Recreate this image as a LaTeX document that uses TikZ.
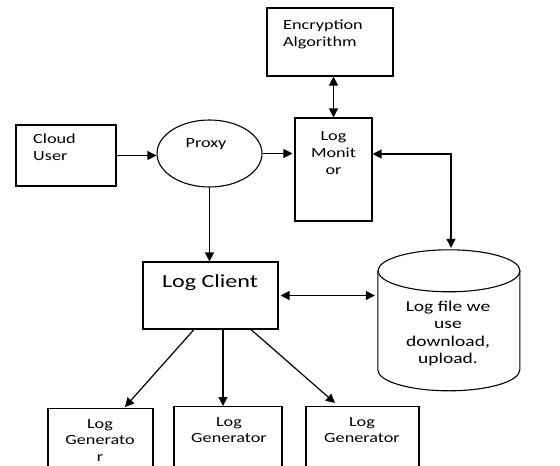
\documentclass[tikz,border=0pt]{standalone}
\usepackage{fontspec}
\setmainfont{Carlito}[FakeStretch=1.3]
\usetikzlibrary{arrows.meta,calc,shapes.geometric}

\tikzset{
  box/.style={draw, line width=1.1pt, inner sep=0pt},
  txt/.style={font=\fontsize{14}{16.8}\selectfont, inner sep=0pt},
  arr/.style={line width=1.2pt, -{Triangle[length=9pt,width=9pt]}},
  darr/.style={line width=1.2pt, {Triangle[length=9pt,width=9pt]}-{Triangle[length=9pt,width=9pt]}},
}

\begin{document}
\begin{tikzpicture}[x=1pt, y=-1pt]
  % page frame, the generator boxes run past the lower edge
  \clip (0,0) rectangle (560,466);
  \fill[white] (0,0) rectangle (560,466);

  % Boxes
  \node[box, minimum width=126pt, minimum height=68pt] (enc) at (330,42) {};
  \node[box, minimum width=77pt, minimum height=103pt] (mon) at (333.5,169.5) {};
  \node[box, minimum width=100pt, minimum height=61pt] (user) at (66,155.5) {};
  \node[box, ellipse, minimum width=105pt, minimum height=67pt] (proxy) at (209.5,153.5) {};
  \node[box, minimum width=135pt, minimum height=67pt] (client) at (210.5,295.5) {};
  \node[box, anchor=north, minimum width=105pt, minimum height=90pt] (gen1) at (100.5,408) {};
  \node[box, anchor=north, minimum width=108pt, minimum height=90pt] (gen2) at (228,406) {};
  \node[box, anchor=north, minimum width=113pt, minimum height=90pt] (gen3) at (362.5,406) {};

  % Log file store (cylinder)
  \node[inner sep=0pt, minimum width=142pt, minimum height=141pt] (store) at (449,320.5) {};
  \draw[line width=1.1pt, fill=white]
    (store.north west) ++(0,21) -- ++(0,99)
    arc[start angle=180, end angle=360, x radius=71pt, y radius=21pt]
    -- ++(0,-99);
  \draw[line width=1.1pt] ($(store.north)+(0,21)$) ellipse[x radius=71pt, y radius=21pt];

  % Labels
  \node[txt, anchor=north west, align=left] (enc-t) at (283,20) {Encryption\\Algorithm};
  \node[txt, anchor=north, align=center] (mon-t) at (333.5,131.5) {Log\\Monit\\or};
  \node[txt, anchor=north west, align=left] (user-t) at (33,134) {Cloud\\User};
  \node[txt, anchor=north] (proxy-t) at (206,138) {Proxy};
  \node[txt, anchor=north, font=\fontsize{18.5}{20}\selectfont] (client-t) at (210,274) {Log Client};
  \node[txt, anchor=north, align=center, font=\fontsize{15}{17.3}\selectfont] (store-t) at (448,301)
    {Log file we\\use\\download,\\upload.};
  \node[txt, anchor=north, align=center] (gen1-t) at (100,419) {Log\\Generato\\r};
  \node[txt, anchor=north, align=center] (gen2-t) at (229,417) {Log\\Generator};
  \node[txt, anchor=north, align=center] (gen3-t) at (362,417) {Log\\Generator};

  % Connectors
  \draw[arr] (user.east) -- (user.east -| proxy.west);
  \draw[arr] (proxy.east) -- ([xshift=-2pt]proxy.east -| mon.west);
  \draw[darr] (mon.north) -- (mon.north |- enc.south);
  \draw[arr] (proxy.south) -- (proxy.south |- client.north);
  \coordinate (tap) at (451,154);
  \draw[arr] (tap) -- (tap -| mon.east);
  \draw[arr, shorten <=-1pt] (tap) -- ([yshift=2pt]tap |- store.north);
  \draw[darr] ([xshift=2pt]client.east) -- ([xshift=-3pt]client.east -| store.west);
  \draw[arr] ([xshift=-16.5pt]client.south) -- ([xshift=24.5pt,yshift=1pt]gen1.north);
  \draw[arr] ([xshift=12.5pt]client.south) -- ([xshift=-5pt]gen2.north);
  \draw[arr] ([xshift=40.5pt]client.south) -- ([xshift=-27.5pt,yshift=3pt]gen3.north);
\end{tikzpicture}
\end{document}
